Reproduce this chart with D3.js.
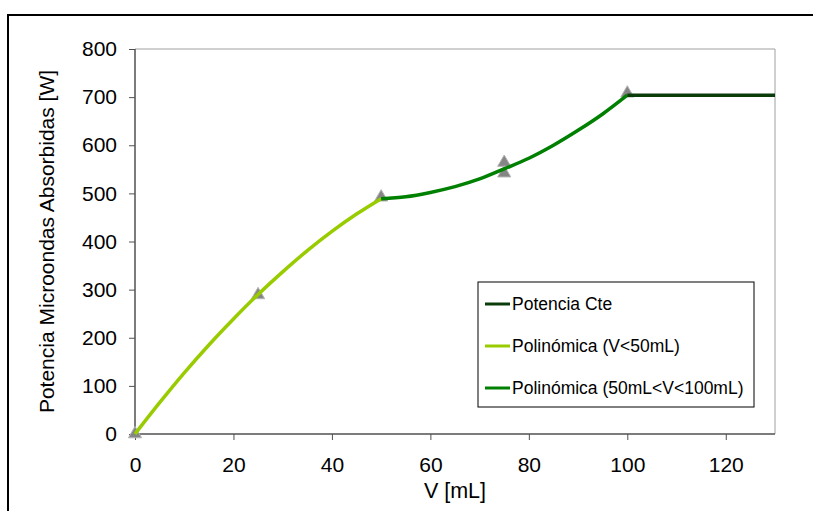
<!DOCTYPE html>
<html>
<head>
<meta charset="utf-8">
<script src="https://cdn.jsdelivr.net/npm/d3@7"></script>
<style>
  body { margin: 0; background: #fff; }
  text { font-family: "Liberation Sans", Arial, sans-serif; }
</style>
</head>
<body>
<svg id="chart" width="813" height="511"></svg>
<script>
// measured points (triangles)
var measV = [0, 25, 50, 75, 75, 100];
var measP = [0, 289, 492, 564, 542, 708];

// curves
var poly1V = [0, 5, 10, 15, 20, 25, 30, 35, 40, 45, 50];
var poly1P = [0, 65, 127, 185, 239, 290, 337, 381, 421, 457, 489];

var poly2V = [50, 55, 60, 65, 70, 75, 80, 85, 90, 95, 100];
var poly2P = [489, 493, 502, 514, 530, 551, 573, 600, 631, 665, 704];

var cteV = [100, 130];
var cteP = [704, 704];

var xTicks = [0, 20, 40, 60, 80, 100, 120];
var yTicks = [0, 100, 200, 300, 400, 500, 600, 700, 800];

var legendNames = ['Potencia Cte', 'Polinómica (V<50mL)', 'Polinómica (50mL<V<100mL)'];
var legendColours = ['#0a3d0a', '#99cc00', '#008000'];

const svg = d3.select("#chart");

// outer frame
svg.append('rect')
  .attr('x', 8).attr('y', 15)
  .attr('width', 830).attr('height', 520)
  .attr('fill', 'none')
  .attr('stroke', 'black')
  .attr('stroke-width', 2);

var margin = {top: 49, left: 135};
var innerWidth = 640, innerHeight = 385;

var xScale = d3.scaleLinear().domain([0, 130]).range([0, innerWidth]);
var yScale = d3.scaleLinear().domain([0, 800]).range([innerHeight, 0]);

var g = svg.append('g')
  .attr('transform', `translate(${margin.left},${margin.top})`);

// plot border (top / right)
g.append('path')
  .attr('d', `M0,0H${innerWidth}V${innerHeight}`)
  .attr('fill', 'none')
  .attr('stroke', '#a0a0a0')
  .attr('stroke-width', 1);

var yAxis = d3.axisLeft(yScale).tickValues(yTicks).tickSize(6).tickPadding(12);
var xAxis = d3.axisBottom(xScale).tickValues(xTicks).tickSize(6).tickPadding(17);

var yAxisG = g.append('g').call(yAxis);
var xAxisG = g.append('g').attr('transform', `translate(0,${innerHeight})`).call(xAxis);

[yAxisG, xAxisG].forEach(a => {
  a.select('.domain').attr('stroke', '#505050').attr('stroke-width', 1.5);
  a.selectAll('.tick line').attr('stroke', '#505050');
  a.selectAll('.tick text')
    .attr('font-size', 21)
    .attr('font-family', '"Liberation Sans", Arial, sans-serif')
    .attr('fill', '#000');
});
xAxisG.select('.domain').attr('d', `M0,0H${innerWidth}`);
yAxisG.select('.domain').attr('d', `M0,0V${innerHeight}`);

// axis labels
g.append('text')
  .attr('transform', 'rotate(-90)')
  .attr('x', -innerHeight / 2)
  .attr('y', -81)
  .attr('text-anchor', 'middle')
  .attr('font-size', 21)
  .text('Potencia Microondas Absorbidas [W]');

g.append('text')
  .attr('x', innerWidth / 2)
  .attr('y', innerHeight + 64)
  .attr('text-anchor', 'middle')
  .attr('font-size', 21.5)
  .text('V [mL]');

// markers
var sym = d3.symbol().type(d3.symbolTriangle).size(75);
g.selectAll('.pt').data(d3.range(measV.length))
  .enter().append('path')
  .attr('class', 'pt')
  .attr('d', sym)
  .attr('transform', i => `translate(${xScale(measV[i])},${yScale(measP[i])})`)
  .attr('fill', '#858585')
  .attr('stroke', '#b5b5b5')
  .attr('stroke-width', 1);

var line = d3.line()
  .x(d => xScale(d[0]))
  .y(d => yScale(d[1]))
  .curve(d3.curveMonotoneX);

var series = [
  {v: poly1V, p: poly1P, c: legendColours[1]},
  {v: poly2V, p: poly2P, c: legendColours[2]},
  {v: cteV, p: cteP, c: legendColours[0]}
];

g.selectAll('.line-path').data(series)
  .enter().append('path')
  .attr('class', 'line-path')
  .attr('d', s => line(s.v.map((v, i) => [v, s.p[i]])))
  .attr('fill', 'none')
  .attr('stroke', s => s.c)
  .attr('stroke-width', 3.5);

// legend
var lg = svg.append('g').attr('transform', 'translate(478,282)');
lg.append('rect')
  .attr('width', 276).attr('height', 125)
  .attr('fill', '#fff')
  .attr('stroke', '#000')
  .attr('stroke-width', 1);

var items = lg.selectAll('.item').data(legendNames)
  .enter().append('g')
  .attr('transform', (d, i) => `translate(0,${22 + i * 42})`);
items.append('line')
  .attr('x1', 7).attr('x2', 32)
  .attr('stroke', (d, i) => legendColours[i])
  .attr('stroke-width', 3);
items.append('text')
  .attr('x', 34)
  .attr('dy', '0.35em')
  .attr('font-size', 17.5)
  .text(d => d);
</script>
</body>
</html>
